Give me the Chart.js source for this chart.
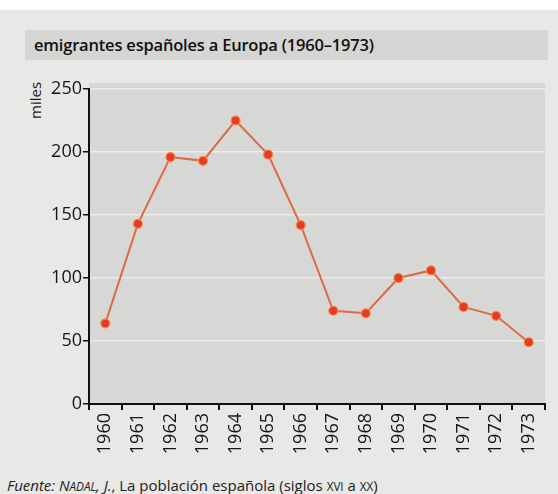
<!DOCTYPE html>
<html><head><meta charset="utf-8">
<script src="https://cdn.jsdelivr.net/npm/chart.js@4"></script>
<style>
html,body{margin:0;padding:0;}
body{width:558px;height:494px;background:#e8e8e6;position:relative;overflow:hidden;font-family:"Open Sans",sans-serif;}
#top{position:absolute;left:0;top:0;width:558px;height:10px;background:#fff;}
#band{position:absolute;left:25px;top:30px;width:523px;height:30px;background:#d5d5d3;}
#title{position:absolute;left:34px;top:33px;font-size:16.5px;font-weight:600;color:#111;letter-spacing:-0.2px;white-space:nowrap;}
#miles{position:absolute;left:26px;top:119px;font-size:15px;line-height:19px;color:#1a1a1a;transform:rotate(-90deg);transform-origin:left top;white-space:nowrap;}
#foot{position:absolute;left:7px;top:475px;font-size:15px;color:#222;white-space:nowrap;letter-spacing:0px;}
#foot i{font-style:italic;}
.sc{font-size:0.78em;}
canvas{position:absolute;left:0;top:0;}
</style></head>
<body>
<div id="top"></div>
<div id="band"></div>
<div id="title">emigrantes españoles a Europa (1960–1973)</div>
<div id="miles">miles</div>
<div id="foot"><i>Fuente: N<span class="sc">ADAL</span>, J.</i>, La población española (siglos <span class="sc">XVI</span> a <span class="sc">XX</span>)</div>
<div style="position:absolute;left:0;top:0;width:558px;height:494px;"><canvas id="c" width="558" height="494"></canvas></div>
<script>
const years = ["1960","1961","1962","1963","1964","1965","1966","1967","1968","1969","1970","1971","1972","1973"];
const emigrants = [64, 143, 196, 193, 225, 198, 142, 74, 72, 100, 106, 77, 70, 49];
const yTicks = [0, 50, 100, 150, 200, 250];

const bgPlugin = {
  id: 'bg',
  beforeDraw(chart) {
    const {ctx, chartArea: a} = chart;
    ctx.save();
    ctx.fillStyle = '#d7d7d5';
    ctx.fillRect(a.left, a.top - 6, a.right - a.left, a.bottom - a.top + 6);
    ctx.restore();
  }
};

new Chart(document.getElementById('c'), {
  type: 'line',
  data: {
    labels: years,
    datasets: [{
      data: emigrants,
      borderColor: '#dc6a45',
      borderWidth: 2,
      pointBackgroundColor: '#e43b2c',
      pointBorderColor: '#f09040',
      pointBorderWidth: 1.2,
      pointRadius: 4.5,
      tension: 0
    }]
  },
  options: {
    responsive: false,
    animation: false,
    layout: {padding: {left: 0, right: 13, top: 89, bottom: 22}},
    plugins: {legend: {display: false}, tooltip: {enabled: false}},
    scales: {
      x: {
        offset: true,
        grid: {offset: true, drawOnChartArea: false, tickColor: '#111', tickLength: 6, lineWidth: 2},
        border: {color: '#111', width: 2},
        ticks: {minRotation: 90, maxRotation: 90, color: '#161616', font: {family: 'Open Sans', size: 18}, padding: 3},
        afterFit(s) { s.height = 68; }
      },
      y: {
        min: 0, max: 250,
        afterBuildTicks(s) { s.ticks = yTicks.map(v => ({value: v})); },
        grid: {color: ctx => ctx.tick && ctx.tick.value === 0 ? 'rgba(0,0,0,0)' : '#ececea', tickColor: '#111', tickLength: 6, lineWidth: 1.5},
        border: {color: '#111', width: 2},
        ticks: {color: '#161616', font: {family: 'Open Sans', size: 18}, padding: 1},
        afterFit(s) { s.width = 89; }
      }
    }
  },
  plugins: [bgPlugin]
});
</script>
</body></html>
